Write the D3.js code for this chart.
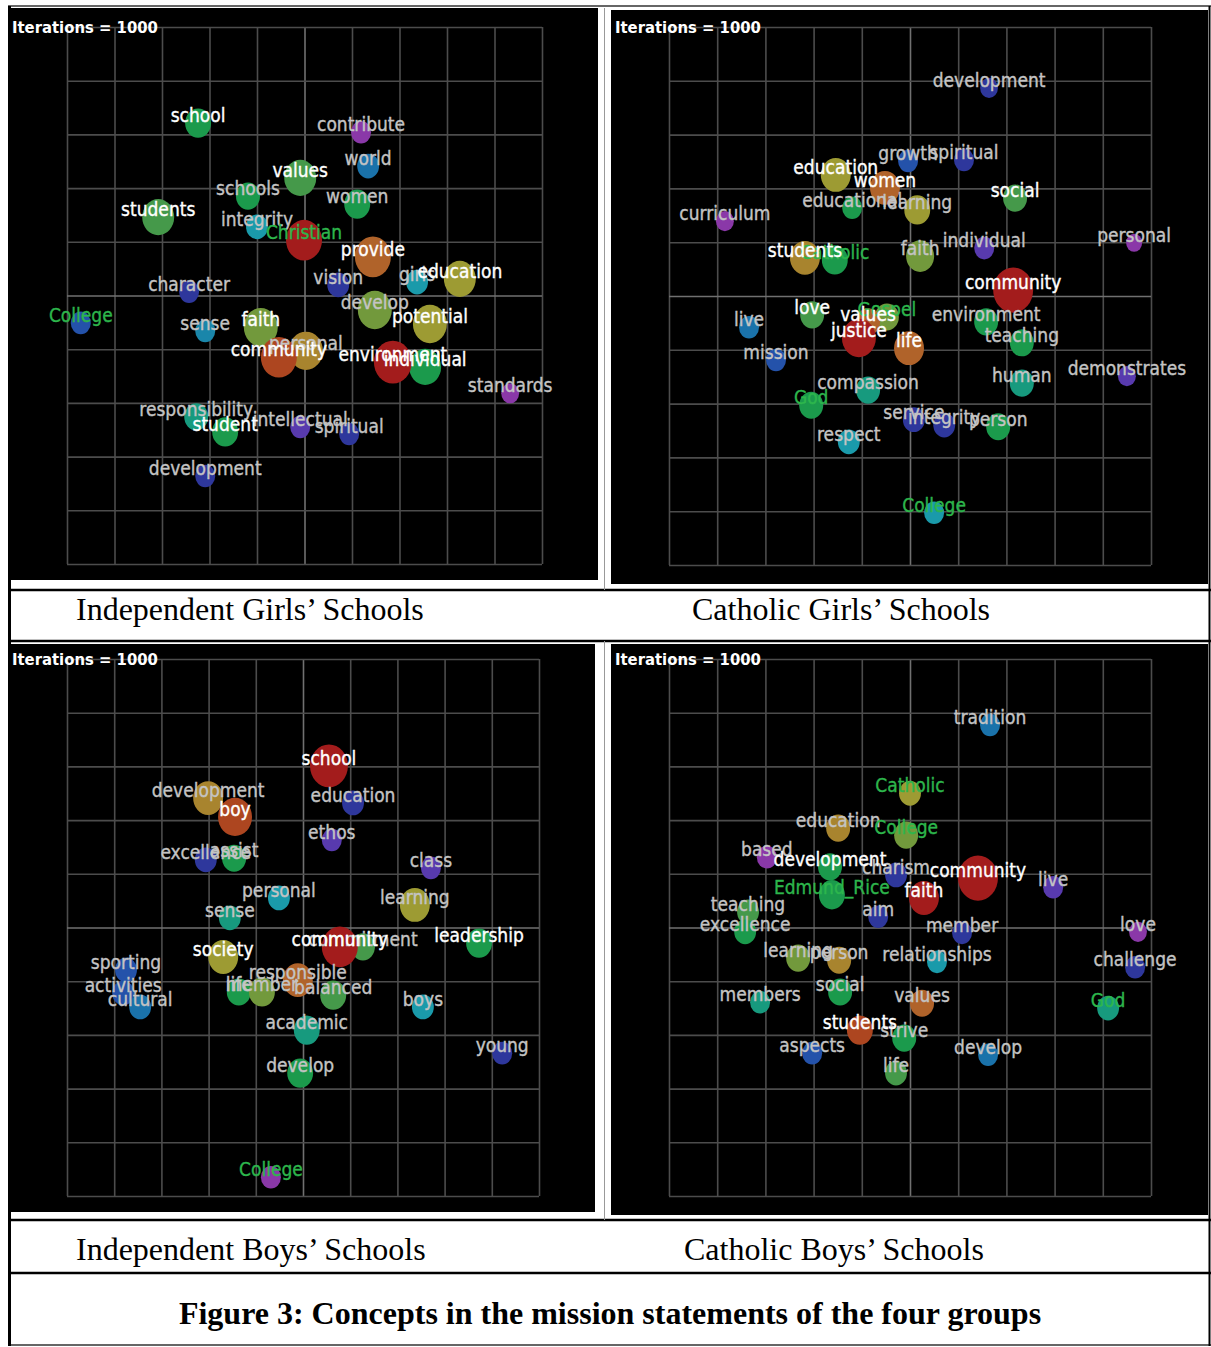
<!DOCTYPE html>
<html>
<head>
<meta charset="utf-8">
<script src="https://cdn.jsdelivr.net/npm/d3@7"></script>
<style>
  body { margin: 0; background: #fff; }
  svg { display: block; }
  .lbl { font-family: "DejaVu Sans Condensed", "DejaVu Sans", sans-serif; font-stretch: condensed; font-size: 19px; stroke-width: 0.35px; }
  .iter { font-family: "DejaVu Sans Condensed", "DejaVu Sans", sans-serif; font-stretch: condensed; font-weight: bold; font-size: 16.5px; }
  .cap { font-family: "Liberation Serif", "Times New Roman", serif; font-size: 32px; }
</style>
</head>
<body>
<script>
// concept map data: [label, x (0-100), y (0-100), relative weight, theme, label kind]
var indGirls = [
  ["school", 27.6, 17.9, 42, "emerald", "major"],
  ["contribute", 61.9, 19.6, 25, "purple", "minor"],
  ["world", 63.4, 25.9, 30, "steel", "minor"],
  ["values", 49.1, 28.1, 64, "green", "major"],
  ["schools", 38.1, 31.5, 36, "emerald", "minor"],
  ["women", 61.1, 33.0, 42, "emerald", "minor"],
  ["students", 19.2, 35.4, 64, "green", "major"],
  ["integrity", 40.0, 37.2, 30, "cyan", "minor"],
  ["Christian", 49.9, 39.7, 81, "red", "name"],
  ["provide", 64.4, 42.8, 81, "orange", "major"],
  ["vision", 57.1, 48.0, 30, "navy", "minor"],
  ["girls", 73.7, 47.5, 30, "cyan", "minor"],
  ["education", 82.7, 46.9, 64, "olive", "major"],
  ["character", 25.7, 49.3, 25, "navy", "minor"],
  ["College", 2.9, 55.1, 25, "blue", "name"],
  ["sense", 29.1, 56.6, 25, "azure", "minor"],
  ["faith", 40.8, 55.9, 72, "lime", "major"],
  ["develop", 64.8, 52.7, 72, "lime", "minor"],
  ["potential", 76.4, 55.3, 72, "olive", "major"],
  ["personal", 50.3, 60.3, 72, "ochre", "minor"],
  ["community", 44.6, 61.5, 81, "orangered", "major"],
  ["individual", 75.4, 63.3, 64, "emerald", "major"],
  ["environment", 68.6, 62.4, 90, "red", "major"],
  ["standards", 93.3, 68.2, 20, "purple", "minor"],
  ["responsibility", 27.2, 72.6, 36, "teal", "minor"],
  ["student", 33.3, 75.4, 42, "emerald", "major"],
  ["intellectual", 49.1, 74.5, 25, "violet", "minor"],
  ["spiritual", 59.4, 75.8, 25, "navy", "minor"],
  ["development", 29.1, 83.6, 25, "navy", "minor"]
];

var cathGirls = [
  ["development", 66.4, 11.3, 20, "navy", "minor"],
  ["growth", 49.6, 24.9, 25, "blue", "minor"],
  ["spiritual", 61.2, 24.7, 25, "navy", "minor"],
  ["education", 34.6, 27.5, 56, "olive", "major"],
  ["women", 44.8, 29.9, 56, "orange", "major"],
  ["educational", 38.0, 33.6, 25, "emerald", "minor"],
  ["learning", 51.5, 34.0, 42, "olive", "minor"],
  ["social", 71.8, 31.8, 36, "green", "major"],
  ["curriculum", 11.6, 36.1, 20, "purple", "minor"],
  ["personal", 96.5, 40.1, 16, "purple", "minor"],
  ["individual", 65.4, 41.1, 25, "violet", "minor"],
  ["students", 28.2, 42.9, 56, "ochre", "major"],
  ["Catholic", 34.4, 43.3, 42, "emerald", "name"],
  ["faith", 52.1, 42.6, 49, "lime", "minor"],
  ["community", 71.4, 48.9, 100, "red", "major"],
  ["live", 16.6, 55.8, 25, "steel", "minor"],
  ["love", 29.7, 53.5, 36, "green", "major"],
  ["Gospel", 45.2, 53.9, 36, "lime", "name"],
  ["values", 41.3, 54.8, 36, "orange", "major"],
  ["justice", 39.4, 57.8, 72, "red", "major"],
  ["life", 49.8, 59.7, 56, "orange", "major"],
  ["environment", 65.8, 54.8, 36, "emerald", "minor"],
  ["teaching", 73.2, 58.7, 36, "emerald", "minor"],
  ["mission", 22.2, 61.9, 25, "blue", "minor"],
  ["human", 73.2, 66.2, 36, "teal", "minor"],
  ["demonstrates", 95.0, 64.9, 20, "violet", "minor"],
  ["compassion", 41.3, 67.5, 36, "teal", "minor"],
  ["God", 29.5, 70.3, 36, "emerald", "name"],
  ["service", 50.8, 73.0, 30, "navy", "minor"],
  ["integrity", 57.1, 74.0, 30, "navy", "minor"],
  ["person", 68.3, 74.3, 36, "emerald", "minor"],
  ["respect", 37.3, 77.1, 30, "cyan", "minor"],
  ["College", 55.0, 90.3, 25, "cyan", "name"]
];

var indBoys = [
  ["school", 55.5, 19.9, 90, "red", "major"],
  ["development", 29.9, 25.9, 56, "ochre", "minor"],
  ["boy", 35.6, 29.4, 72, "orangered", "major"],
  ["education", 60.6, 26.8, 30, "navy", "minor"],
  ["ethos", 56.1, 33.7, 25, "violet", "minor"],
  ["excellence", 29.4, 37.4, 30, "navy", "minor"],
  ["assist", 35.4, 37.1, 36, "emerald", "minor"],
  ["class", 77.1, 38.9, 25, "violet", "minor"],
  ["personal", 44.9, 44.5, 30, "cyan", "minor"],
  ["learning", 73.7, 45.8, 56, "olive", "minor"],
  ["sense", 34.5, 48.2, 30, "teal", "minor"],
  ["commitment", 62.7, 53.6, 36, "green", "minor"],
  ["community", 57.8, 53.6, 81, "red", "major"],
  ["leadership", 87.3, 52.9, 42, "emerald", "major"],
  ["society", 33.1, 55.5, 56, "olive", "major"],
  ["sporting", 12.5, 57.9, 30, "blue", "minor"],
  ["activities", 11.9, 62.2, 30, "blue", "minor"],
  ["cultural", 15.5, 64.8, 30, "steel", "minor"],
  ["life", 36.4, 62.0, 36, "emerald", "minor"],
  ["member", 41.3, 62.0, 42, "lime", "minor"],
  ["responsible", 48.9, 59.8, 56, "orange", "minor"],
  ["balanced", 56.4, 62.6, 42, "green", "minor"],
  ["boys", 75.4, 64.8, 30, "cyan", "minor"],
  ["academic", 50.8, 69.1, 42, "teal", "minor"],
  ["young", 92.2, 73.4, 25, "navy", "minor"],
  ["develop", 49.4, 77.1, 42, "emerald", "minor"],
  ["College", 43.2, 96.5, 25, "purple", "name"]
];

var cathBoys = [
  ["tradition", 66.6, 12.3, 25, "steel", "minor"],
  ["Catholic", 50.0, 25.0, 30, "olive", "name"],
  ["education", 35.1, 31.5, 36, "ochre", "minor"],
  ["College", 49.2, 32.8, 36, "lime", "name"],
  ["based", 20.3, 36.9, 25, "purple", "minor"],
  ["development", 33.4, 38.7, 36, "emerald", "major"],
  ["charism", 47.1, 40.2, 30, "navy", "minor"],
  ["community", 64.1, 40.8, 100, "red", "major"],
  ["live", 79.7, 42.5, 25, "violet", "minor"],
  ["Edmund_Rice", 33.8, 43.9, 42, "emerald", "name"],
  ["faith", 52.9, 44.5, 56, "red", "major"],
  ["aim", 43.4, 48.0, 25, "navy", "minor"],
  ["teaching", 16.4, 47.1, 30, "green", "minor"],
  ["excellence", 15.8, 50.8, 30, "emerald", "minor"],
  ["member", 60.8, 51.0, 25, "navy", "minor"],
  ["love", 97.3, 50.8, 20, "purple", "minor"],
  ["learning", 26.8, 55.7, 36, "lime", "minor"],
  ["person", 35.3, 56.1, 36, "ochre", "minor"],
  ["relationships", 55.6, 56.4, 25, "cyan", "minor"],
  ["challenge", 96.7, 57.4, 25, "navy", "minor"],
  ["social", 35.5, 62.0, 36, "emerald", "minor"],
  ["members", 18.9, 63.9, 25, "teal", "minor"],
  ["values", 52.5, 64.1, 36, "orange", "minor"],
  ["God", 91.1, 65.0, 30, "teal", "name"],
  ["students", 39.6, 69.1, 42, "orangered", "major"],
  ["strive", 48.8, 70.6, 36, "emerald", "minor"],
  ["aspects", 29.7, 73.4, 25, "blue", "minor"],
  ["develop", 66.2, 73.7, 25, "steel", "minor"],
  ["life", 47.1, 77.1, 30, "green", "minor"]
];

var panelTitles = ["Independent Girls’ Schools", "Catholic Girls’ Schools",
                   "Independent Boys’ Schools", "Catholic Boys’ Schools"];
var figureTitle = "Figure 3: Concepts in the mission statements of the four groups";
var iterations = 1000;
var gridTicks = [0, 10, 20, 30, 40, 50, 60, 70, 80, 90, 100];

var themeColor = {
  red: "#a31c1c", orangered: "#ad4620", orange: "#b0632a", ochre: "#a8842e",
  olive: "#9d9b33", lime: "#72993c", green: "#45994a", emerald: "#1b9a4c",
  teal: "#179a7e", cyan: "#1a9aaa", azure: "#1a86aa", steel: "#1a72aa",
  blue: "#2452aa", navy: "#2e379c", violet: "#583aae", purple: "#8a38a8"
};
var labelColor = { major: "#ffffff", minor: "#c4c4c4", name: "#2db64c" };
var labelOrder = { minor: 0, name: 1, major: 2 };

var W = 1211, H = 1347;
var svg = d3.select("body").append("svg").attr("width", W).attr("height", H);
svg.append("rect").attr("width", W).attr("height", H).attr("fill", "#fff");

// layout of the four screenshots [x0, y0, x1, y1]
var panels = [
  { rows: indGirls, frame: [8, 8, 598, 580], grid: [67, 27, 542, 564], cap: [76, 620], title: panelTitles[0] },
  { rows: cathGirls, frame: [611, 10, 1208, 584], grid: [669, 27, 1151, 565], cap: [692, 620], title: panelTitles[1] },
  { rows: indBoys, frame: [8, 644, 595, 1212], grid: [67, 659, 539, 1196], cap: [76, 1260], title: panelTitles[2] },
  { rows: cathBoys, frame: [611, 644, 1208, 1215], grid: [669, 659, 1151, 1196], cap: [684, 1260], title: panelTitles[3] }
];

var r = d3.scaleSqrt().domain([0, 100]).range([0, 20]);

panels.forEach(function(p) {
  var g = svg.append("g");
  var f = p.frame, gb = p.grid;
  g.append("rect")
    .attr("x", f[0]).attr("y", f[1])
    .attr("width", f[2] - f[0]).attr("height", f[3] - f[1])
    .attr("fill", "#000");

  var x = d3.scaleLinear().domain([0, 100]).range([gb[0], gb[2]]);
  var y = d3.scaleLinear().domain([0, 100]).range([gb[1], gb[3]]);

  var gx = g.append("g")
    .attr("transform", "translate(0," + gb[3] + ")")
    .call(d3.axisBottom(x).tickValues(gridTicks).tickSize(-(gb[3] - gb[1])).tickFormat(""));
  var gy = g.append("g")
    .attr("transform", "translate(" + gb[0] + ",0)")
    .call(d3.axisLeft(y).tickValues(gridTicks).tickSize(-(gb[2] - gb[0])).tickFormat(""));
  [gx, gy].forEach(function(a) {
    a.select(".domain").remove();
    a.selectAll(".tick line")
      .attr("stroke", function(d) { return d === 50 ? "#707070" : "#4c4c4c"; })
      .attr("stroke-width", 1.6);
  });

  g.append("text")
    .attr("class", "iter")
    .attr("x", f[0] + 4)
    .attr("y", gb[1] + 6)
    .attr("fill", "#fff")
    .text("Iterations = " + iterations);

  var items = p.rows.map(function(d, i) {
    return { t: d[0], x: d[1], y: d[2], w: d[3], th: d[4], k: d[5], i: i };
  });

  g.selectAll("ellipse.dot")
    .data(items)
    .join("ellipse")
    .attr("class", "dot")
    .attr("cx", function(d) { return x(d.x); })
    .attr("cy", function(d) { return y(d.y); })
    .attr("rx", function(d) { return r(d.w); })
    .attr("ry", function(d) { return r(d.w) * 1.13; })
    .attr("fill", function(d) { return themeColor[d.th]; });

  var sorted = items.slice().sort(function(a, b) {
    return (labelOrder[a.k] - labelOrder[b.k]) || (a.i - b.i);
  });
  g.selectAll("text.lbl")
    .data(sorted)
    .join("text")
    .attr("class", "lbl")
    .attr("x", function(d) { return x(d.x); })
    .attr("y", function(d) { return y(d.y) - 1; })
    .attr("text-anchor", "middle")
    .attr("fill", function(d) { return labelColor[d.k]; })
    .attr("stroke", function(d) { return labelColor[d.k]; })
    .text(function(d) { return d.t; });

  svg.append("text")
    .attr("class", "cap")
    .attr("x", p.cap[0]).attr("y", p.cap[1])
    .attr("fill", "#000")
    .text(p.title);
});

// table rules
var rules = svg.append("g").attr("fill", "none");
[[590, 2.5, "#000"], [641, 2.5, "#000"], [1220, 2.5, "#000"], [1273, 2.5, "#000"], [1345, 2, "#666"], [6, 1.5, "#333"]]
  .forEach(function(h) {
    rules.append("line").attr("x1", 8).attr("x2", 1211).attr("y1", h[0]).attr("y2", h[0])
      .attr("stroke", h[2]).attr("stroke-width", h[1]);
  });
rules.append("line").attr("x1", 9.5).attr("x2", 9.5).attr("y1", 6).attr("y2", 1346)
  .attr("stroke", "#000").attr("stroke-width", 3);
rules.append("line").attr("x1", 1209.5).attr("x2", 1209.5).attr("y1", 6).attr("y2", 1346)
  .attr("stroke", "#000").attr("stroke-width", 2);
[[8, 590], [641, 1220]].forEach(function(v) {
  rules.append("line").attr("x1", 604.5).attr("x2", 604.5).attr("y1", v[0]).attr("y2", v[1])
    .attr("stroke", "#999").attr("stroke-width", 1);
});

svg.append("text")
  .attr("class", "cap")
  .attr("x", 610).attr("y", 1324)
  .attr("text-anchor", "middle")
  .attr("font-weight", "bold")
  .attr("fill", "#000")
  .text(figureTitle);
</script>
</body>
</html>
